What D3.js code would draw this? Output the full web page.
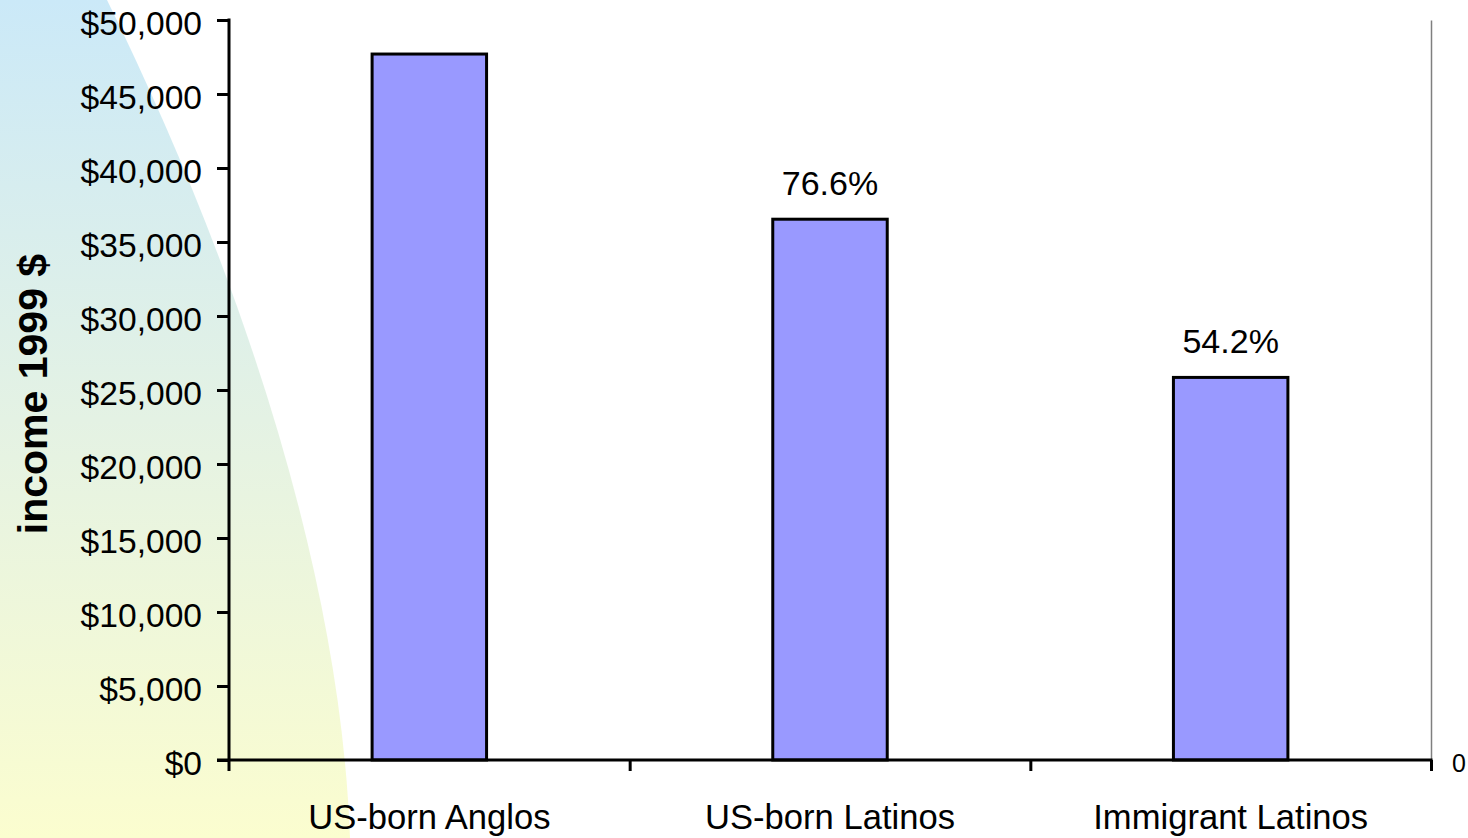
<!DOCTYPE html>
<html>
<head>
<meta charset="utf-8">
<script src="https://cdn.jsdelivr.net/npm/d3@7"></script>
<style>
  html, body { margin: 0; padding: 0; background: #ffffff; }
  svg { display: block; font-family: "Liberation Sans", Arial, sans-serif; }
</style>
</head>
<body>
<svg id="chart" width="1468" height="838"></svg>
<script>
// Median income (1999 dollars) by group
const categories = ["US-born Anglos", "US-born Latinos", "Immigrant Latinos"];
const incomes = [47700, 36540, 25850];
const shareLabels = ["", "76.6%", "54.2%"];
const yTicks = [0, 5000, 10000, 15000, 20000, 25000, 30000, 35000, 40000, 45000, 50000];
const secondaryTicks = [0];

const svg = d3.select("#chart");
const plot = { left: 229, right: 1431, top: 20, bottom: 760 };

// Soft backdrop panel on the left edge
const defs = svg.append("defs");
const grad = defs.append("linearGradient")
  .attr("id", "backdrop").attr("x1", 0).attr("y1", 0).attr("x2", 0).attr("y2", 1);
grad.append("stop").attr("offset", "0%").attr("stop-color", "#cbe9f8");
grad.append("stop").attr("offset", "50%").attr("stop-color", "#e4f2e4");
grad.append("stop").attr("offset", "100%").attr("stop-color", "#fbfdcf");
svg.append("path")
  .attr("d", "M0,0 L107,0 C230,250 340,560 350,838 L0,838 Z")
  .attr("fill", "url(#backdrop)");

// Scales
const x = d3.scaleBand()
  .domain(categories)
  .range([plot.left, plot.right])
  .paddingInner(0.7143)
  .paddingOuter(0.7143 / 2);
const y = d3.scaleLinear().domain([0, 50000]).range([plot.bottom, plot.top]);
const edges = d3.scaleLinear().domain([0, categories.length]).range([plot.left, plot.right]);
const secondary = d3.scaleLinear().domain([0, 1]).range([plot.bottom, plot.top]);

// Secondary axis on the right (gray line, single "0" label)
const rightAxis = svg.append("g")
  .attr("transform", `translate(${plot.right},0)`)
  .call(d3.axisRight(secondary).tickValues(secondaryTicks).tickSize(0).tickSizeOuter(0)
    .tickPadding(21).tickFormat(d3.format("d")));
rightAxis.select(".domain").attr("stroke", "#7f7f7f").attr("stroke-width", 1.5);
rightAxis.selectAll("text")
  .attr("font-family", "'Liberation Sans', Arial, sans-serif")
  .attr("font-size", 25).attr("fill", "#000").attr("dy", "0.45em");

// Bars
svg.append("g").selectAll("rect")
  .data(categories)
  .join("rect")
  .attr("x", d => x(d))
  .attr("y", (d, i) => y(incomes[i]))
  .attr("width", x.bandwidth())
  .attr("height", (d, i) => y(0) - y(incomes[i]))
  .attr("fill", "#9999ff")
  .attr("stroke", "#000")
  .attr("stroke-width", 3);

// Share-of-Anglo labels above bars
svg.append("g").selectAll("text")
  .data(categories)
  .join("text")
  .attr("x", d => x(d) + x.bandwidth() / 2)
  .attr("y", (d, i) => y(incomes[i]) - 24)
  .attr("text-anchor", "middle")
  .attr("font-size", 34)
  .attr("fill", "#000")
  .text((d, i) => shareLabels[i]);

// Y axis
const yAxis = svg.append("g")
  .attr("transform", `translate(${plot.left},0)`)
  .call(d3.axisLeft(y).tickValues(yTicks).tickSize(12).tickSizeOuter(0).tickPadding(15)
    .tickFormat(d => "$" + d3.format(",")(d)));
yAxis.select(".domain").attr("stroke", "#000").attr("stroke-width", 3)
  .attr("d", `M0,${plot.top - 1.5}V${plot.bottom + 11}`);
yAxis.selectAll(".tick line").attr("stroke", "#000").attr("stroke-width", 3);
yAxis.selectAll("text")
  .attr("font-family", "'Liberation Sans', Arial, sans-serif")
  .attr("font-size", 33.6).attr("fill", "#000").attr("dy", "0.44em");

// X axis: ticks at category boundaries
const xEdges = svg.append("g")
  .attr("transform", `translate(0,${plot.bottom})`)
  .call(d3.axisBottom(edges).tickValues(d3.range(1, categories.length + 1)).tickSize(11).tickSizeOuter(0).tickFormat(""));
xEdges.select(".domain").attr("stroke", "#000").attr("stroke-width", 3)
  .attr("d", `M${plot.left - 12},0H${plot.right + 1.5}`);
xEdges.selectAll(".tick line").attr("stroke", "#000").attr("stroke-width", 3);

// X axis: category labels
const xLabels = svg.append("g")
  .attr("transform", `translate(0,${plot.bottom})`)
  .call(d3.axisBottom(x).tickSize(0).tickPadding(44));
xLabels.select(".domain").remove();
xLabels.selectAll("text")
  .attr("font-family", "'Liberation Sans', Arial, sans-serif")
  .attr("font-size", 34.6).attr("fill", "#000");

// Y axis title
svg.append("text")
  .attr("transform", "translate(47,394) rotate(-90)")
  .attr("text-anchor", "middle")
  .attr("font-size", 41)
  .attr("font-weight", "bold")
  .attr("fill", "#000")
  .text("income 1999 $");
</script>
</body>
</html>
